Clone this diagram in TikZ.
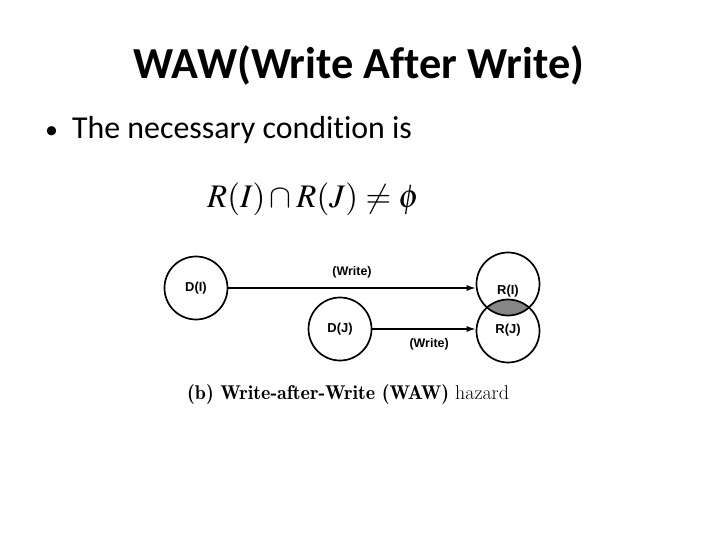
\documentclass[tikz,border=0pt]{standalone}
\usepackage{mathptmx}
\usepackage[no-math]{fontspec}
\setmainfont{Carlito}[Ligatures=NoCommon]
\setsansfont{Liberation Sans}
\usetikzlibrary{arrows.meta,backgrounds}

\tikzset{
  reg/.style={circle, draw, line width=1.7bp, minimum size=63bp, inner sep=0pt,
    font=\sffamily\bfseries\fontsize{13}{14}\selectfont},
  wr/.style={line width=1.3bp, -{Latex[length=9bp,width=6bp]}},
  wrlabel/.style={font=\sffamily\bfseries\fontsize{12.5}{14}\selectfont}
}

\begin{document}
\begin{tikzpicture}[x=1bp,y=-1bp]
        \useasboundingbox (0,0) rectangle (720,540);
        % Title and bullet
        \node[anchor=base, font=\bfseries\fontsize{44.5}{50}\selectfont] (title) at (359,79) {WAW(Write After Write)};
        \node[anchor=base west, inner sep=0pt, font=\fontsize{32}{38}\selectfont] (cond) at (45,139) {{\fontsize{26}{30}\selectfont\textbullet}\hspace{14bp}The necessary condition is};
        \node[anchor=base west, inner sep=0pt, font=\fontsize{33}{38}\selectfont] (eq) at (207,208) {$R(I)\cap R(J)\neq\phi$};
        % Registers
        \node[reg] (DI) at (196,288) {D(I)};
        \node[reg] (DJ) at (340,329) {D(J)};
        \node[reg, text height=21bp, text depth=1bp] (RI) at (508,284) {R(I)};
        \node[reg, text height=9bp, text depth=4bp] (RJ) at (508,331) {R(J)};
        % Shared part
        \begin{scope}[on background layer]
          \clip (RI) circle (31.5);
          \fill[gray!95] (RJ) circle (31.5);
        \end{scope}
        % Writes
        \draw[wr] (DI.east) -- (DI.east -| RI.west) node[wrlabel, midway, above=6bp] (w1) {(Write)};
        \draw[wr] (DJ.east) -- (DJ.east -| RJ.west) node[wrlabel, pos=0.55, below=6bp] (w2) {(Write)};
        % Caption
        \node[anchor=base west, inner sep=0pt, font=\fontfamily{lmr}\selectfont\fontsize{20}{24}\selectfont] (cap) at (187,399) {\textbf{(b) Write-after-Write (WAW)} hazard};
    \end{tikzpicture}
\end{document}
